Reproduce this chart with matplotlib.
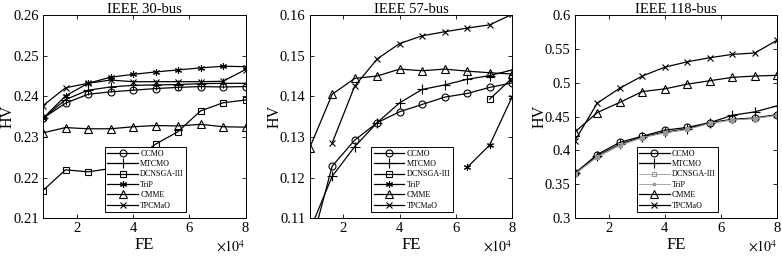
import matplotlib
matplotlib.use('Agg')
import matplotlib.pyplot as plt
import numpy as np
from matplotlib.ticker import FuncFormatter

plt.rcParams['font.family'] = ['Liberation Serif', 'DejaVu Serif']
plt.rcParams['mathtext.fontset'] = 'stix'

# FE in units of 1e4
fe = [0.8, 1.6, 2.4, 3.2, 4.0, 4.8, 5.6, 6.4, 7.2, 8.0]
algos = ['CCMO', 'MTCMO', 'DCNSGA-III', 'TriP', 'CMME', 'TPCMaO']
nan = np.nan

# IEEE 30-bus
hv30 = {
    'CCMO':       [0.2346, 0.2383, 0.2405, 0.2411, 0.2415, 0.2419, 0.2422, 0.2424, 0.2423, 0.2424],
    'MTCMO':      [0.2346, 0.2392, 0.2415, 0.2423, 0.2427, 0.2428, 0.2429, 0.2431, 0.2432, 0.2432],
    'DCNSGA-III': [0.2168, 0.2219, 0.2214, 0.2222, 0.2242, 0.2282, 0.2313, 0.2364, 0.2384, 0.2391],
    'TriP':       [0.2346, 0.2401, 0.2432, 0.2447, 0.2454, 0.2460, 0.2465, 0.2470, 0.2474, 0.2473],
    'CMME':       [0.2310, 0.2323, 0.2320, 0.2320, 0.2325, 0.2328, 0.2327, 0.2331, 0.2325, 0.2324],
    'TPCMaO':     [0.2377, 0.2421, 0.2432, 0.2440, 0.2436, 0.2436, 0.2436, 0.2436, 0.2437, 0.2466],
}

# IEEE 57-bus
hv57 = {
    'CCMO':       [0.1019, 0.1228, 0.1292, 0.1335, 0.1362, 0.1380, 0.1398, 0.1407, 0.1422, 0.1433],
    'MTCMO':      [0.1069, 0.1203, 0.1276, 0.1335, 0.1384, 0.1417, 0.1428, 0.1442, 0.1451, 0.1465],
    'DCNSGA-III': [nan, nan, nan, nan, nan, nan, nan, nan, 0.1393, 0.1445],
    'TriP':       [nan, nan, nan, nan, nan, nan, nan, 0.1225, 0.1280, 0.1399],
    'CMME':       [0.1273, 0.1405, 0.1444, 0.1450, 0.1467, 0.1463, 0.1467, 0.1462, 0.1458, 0.1455],
    'TPCMaO':     [nan, 0.1285, 0.1425, 0.1492, 0.1530, 0.1549, 0.1559, 0.1568, 0.1576, 0.1602],
}

# IEEE 118-bus
hv118 = {
    'CCMO':       [0.366, 0.394, 0.412, 0.421, 0.430, 0.434, 0.441, 0.446, 0.448, 0.453],
    'MTCMO':      [0.366, 0.392, 0.409, 0.420, 0.427, 0.432, 0.441, 0.452, 0.457, 0.466],
    'DCNSGA-III': [0.365, 0.391, 0.408, 0.419, 0.426, 0.431, 0.440, 0.445, 0.447, 0.452],
    'TriP':       [0.365, 0.390, 0.407, 0.419, 0.426, 0.431, 0.440, 0.445, 0.447, 0.452],
    'CMME':       [0.427, 0.456, 0.471, 0.487, 0.491, 0.498, 0.503, 0.508, 0.510, 0.511],
    'TPCMaO':     [0.414, 0.470, 0.492, 0.510, 0.523, 0.531, 0.537, 0.542, 0.544, 0.563],
}

panels = [('IEEE 30-bus', hv30, (0.21, 0.26), [0.21, 0.22, 0.23, 0.24, 0.25, 0.26]),
          ('IEEE 57-bus', hv57, (0.11, 0.16), [0.11, 0.12, 0.13, 0.14, 0.15, 0.16]),
          ('IEEE 118-bus', hv118, (0.3, 0.6), [0.3, 0.35, 0.4, 0.45, 0.5, 0.55, 0.6])]

asterisk = (6, 2, 0)
styles = {
    'CCMO':       dict(marker='o', ms=5),
    'MTCMO':      dict(marker='+', ms=6.5),
    'DCNSGA-III': dict(marker='s', ms=4.3),
    'TriP':       dict(marker=asterisk, ms=5),
    'CMME':       dict(marker='^', ms=5.3),
    'TPCMaO':     dict(marker='x', ms=4.3),
}

fig = plt.figure(figsize=(7.82, 2.56), dpi=100)
lefts = [0.055, 0.396, 0.735]
w = 0.259
for k, (title, data, ylim, yticks) in enumerate(panels):
    ax = fig.add_axes([lefts[k], 0.148, w, 0.793])
    for name in algos:
        st = dict(styles[name])
        color = 'k'
        lw = 0.9
        if k == 2 and name in ('DCNSGA-III', 'TriP'):
            color = '0.6'
            lw = 0.6
            st['ms'] = 2.5
        ax.plot(fe, data[name], color=color, lw=lw, mfc='none', mec=color,
                mew=0.8, label=name, **st)
    ax.set_xlim(0.8, 8)
    ax.set_ylim(*ylim)
    ax.set_xticks([2, 4, 6, 8])
    ax.set_yticks(yticks)
    ax.yaxis.set_major_formatter(FuncFormatter(lambda v, p: '%g' % round(v, 3)))
    ax.tick_params(direction='in', top=True, right=True, labelsize=10.5,
                   length=3, width=0.6, pad=3)
    for s in ax.spines.values():
        s.set_linewidth(0.7)
    ax.set_title(title, fontsize=10.5, pad=1.5)
    ax.set_xlabel('FE', fontsize=12)
    ax.xaxis.set_label_coords(0.5, -0.094)
    ax.set_ylabel('HV', fontsize=11.5)
    ax.yaxis.set_label_coords(-0.135, 0.5)
    ax.text(1.0, -0.105, r'$\times10^4$', transform=ax.transAxes, fontsize=10,
            ha='right', va='top')
    leg = ax.legend(loc='lower left', bbox_to_anchor=(0.305, 0.03), fontsize=5.8,
                    frameon=True, fancybox=False, edgecolor='k', framealpha=1,
                    handlelength=3.8, labelspacing=0.3, borderpad=0.3,
                    handletextpad=0.3, borderaxespad=0)
    leg.get_frame().set_linewidth(0.7)

fig.savefig('out.png', dpi=100)
